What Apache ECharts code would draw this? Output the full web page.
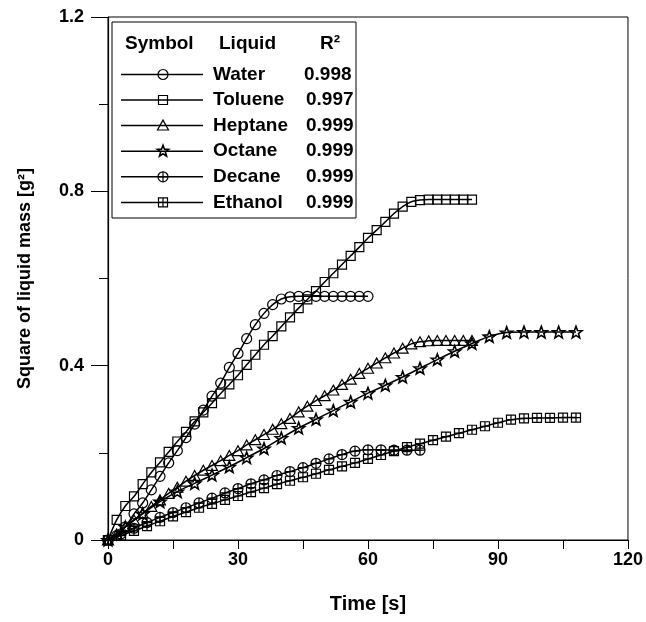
<!DOCTYPE html>
<html>
<head>
<meta charset="utf-8">
<script src="https://cdn.jsdelivr.net/npm/echarts@6/dist/echarts.min.js"></script>
<style>
  html, body { margin: 0; padding: 0; background: #fff; }
  #chart { width: 646px; height: 622px; }
</style>
</head>
<body>
<div id="chart"></div>
<script>
// sample times (s)
const time2 = [0, 2, 4, 6, 8, 10, 12, 14, 16, 18, 20, 22, 24, 26, 28, 30, 32, 34, 36, 38, 40, 42,
  44, 46, 48, 50, 52, 54, 56, 58, 60, 62, 64, 66, 68, 70, 72, 74, 76, 78, 80, 82, 84];
const time3 = [0, 3, 6, 9, 12, 15, 18, 21, 24, 27, 30, 33, 36, 39, 42, 45, 48, 51, 54, 57, 60, 63,
  66, 69, 72, 75, 78, 81, 84, 87, 90, 93, 96, 99, 102, 105, 108];
const time4 = [0, 4, 8, 12, 16, 20, 24, 28, 32, 36, 40, 44, 48, 52, 56, 60, 64, 68, 72, 76, 80, 84,
  88, 92, 96, 100, 104, 108];

// square of liquid mass (g^2)
const water = [0, 0.01, 0.03, 0.06, 0.085, 0.115, 0.146, 0.177, 0.205, 0.235, 0.266, 0.298, 0.33,
  0.36, 0.396, 0.428, 0.462, 0.494, 0.52, 0.54, 0.553, 0.558, 0.559, 0.559, 0.559, 0.559, 0.559,
  0.559, 0.559, 0.559, 0.559];
const toluene = [0, 0.046, 0.078, 0.1, 0.128, 0.155, 0.178, 0.202, 0.226, 0.248, 0.272, 0.293,
  0.314, 0.336, 0.357, 0.378, 0.402, 0.425, 0.448, 0.468, 0.49, 0.511, 0.532, 0.552, 0.571, 0.592,
  0.612, 0.632, 0.652, 0.672, 0.693, 0.711, 0.73, 0.749, 0.765, 0.776, 0.78, 0.781, 0.781, 0.781,
  0.781, 0.781, 0.781];
const heptane = [0, 0.014, 0.03, 0.046, 0.062, 0.077, 0.092, 0.107, 0.121, 0.135, 0.148, 0.16,
  0.171, 0.182, 0.194, 0.205, 0.218, 0.23, 0.242, 0.254, 0.267, 0.279, 0.294, 0.307, 0.32, 0.331,
  0.344, 0.357, 0.369, 0.382, 0.394, 0.406, 0.418, 0.429, 0.44, 0.45, 0.455, 0.457, 0.458, 0.458,
  0.458, 0.458, 0.458];
const octane = [0, 0.03, 0.06, 0.088, 0.111, 0.13, 0.149, 0.168, 0.189, 0.21, 0.234, 0.257, 0.277,
  0.297, 0.317, 0.337, 0.355, 0.374, 0.394, 0.414, 0.433, 0.451, 0.467, 0.476, 0.477, 0.477, 0.477,
  0.477];
const decane = [0, 0.014, 0.027, 0.04, 0.052, 0.063, 0.074, 0.085, 0.096, 0.108, 0.118, 0.129,
  0.138, 0.148, 0.157, 0.166, 0.176, 0.186, 0.196, 0.204, 0.207, 0.207, 0.206, 0.206, 0.206];
const ethanol = [0, 0.01, 0.021, 0.032, 0.043, 0.054, 0.064, 0.074, 0.083, 0.092, 0.101, 0.11,
  0.119, 0.128, 0.136, 0.144, 0.152, 0.161, 0.169, 0.177, 0.186, 0.195, 0.204, 0.213, 0.221, 0.229,
  0.237, 0.245, 0.253, 0.261, 0.269, 0.276, 0.279, 0.28, 0.28, 0.281, 0.281];

const liquids = ['Water', 'Toluene', 'Heptane', 'Octane', 'Decane', 'Ethanol'];
const r2Values = ['0.998', '0.997', '0.999', '0.999', '0.999', '0.999'];
const yTicks = ['0', '0.4', '0.8', '1.2'];

const FONT = '"Liberation Sans", Arial, Helvetica, sans-serif';

// marker outlines (unit size 20)
const circlePath = 'M0,-10A10,10,0,1,1,0,10A10,10,0,1,1,0,-10Z';
const squarePath = 'M-10,-10L10,-10L10,10L-10,10Z';
const trianglePath = 'M0,-10L10,8L-10,8Z';
const starPts = [];
for (let i = 0; i < 10; i++) {
  const r = i % 2 === 0 ? 10 : 4.2;
  const a = -Math.PI / 2 + i * Math.PI / 5;
  starPts.push([r * Math.cos(a), r * Math.sin(a)]);
}
const starPath = starPts.map((p, i) => (i ? 'L' : 'M') + p[0].toFixed(2) + ',' + p[1].toFixed(2)).join('') + 'Z';
const circlePlusPath = circlePath + 'M-10,0L10,0M0,-10L0,10';
const squarePlusPath = squarePath + 'M-10,0L10,0M0,-10L0,10';

const symbols = [
  { kind: 'circle', path: circlePath, size: 10, lw: 1.2 },
  { kind: 'square', path: squarePath, size: 9, lw: 1.2 },
  { kind: 'triangle', path: trianglePath, size: 11, lw: 1.2 },
  { kind: 'star', path: starPath, size: 12, lw: 1.6 },
  { kind: 'circlePlus', path: circlePlusPath, size: 10, lw: 1.2 },
  { kind: 'squarePlus', path: squarePlusPath, size: 9, lw: 1.2 }
];

function makeSeries(name, times, values, sym) {
  return {
    name: name,
    type: 'line',
    data: values.map((v, i) => [times[i], v]),
    symbol: 'path://' + sym.path,
    symbolSize: sym.size,
    symbolKeepAspect: true,
    showAllSymbol: true,
    smooth: 0.3,
    lineStyle: { color: '#000', width: 1.5 },
    itemStyle: { color: 'rgba(0,0,0,0)', borderColor: '#000', borderWidth: sym.lw },
    emphasis: { disabled: true },
    animation: false
  };
}

// legend icon built from plain graphic shapes
function legendIcon(sym, cx, cy) {
  const h = sym.size / 2;
  const st = { fill: 'rgba(0,0,0,0)', stroke: '#000', lineWidth: sym.lw };
  const cross = [
    { type: 'line', shape: { x1: cx - h, y1: cy, x2: cx + h, y2: cy }, style: { stroke: '#000', lineWidth: 1.2 } },
    { type: 'line', shape: { x1: cx, y1: cy - h, x2: cx, y2: cy + h }, style: { stroke: '#000', lineWidth: 1.2 } }
  ];
  switch (sym.kind) {
    case 'circle': return [{ type: 'circle', shape: { cx: cx, cy: cy, r: h }, style: st }];
    case 'square': return [{ type: 'rect', shape: { x: cx - h, y: cy - h, width: 2 * h, height: 2 * h }, style: st }];
    case 'triangle': return [{ type: 'polygon', shape: { points: [[cx, cy - h], [cx + h, cy + 0.8 * h], [cx - h, cy + 0.8 * h]] }, style: st }];
    case 'star': return [{ type: 'polygon', shape: { points: starPts.map(p => [cx + p[0] * h / 10, cy + p[1] * h / 10]) }, style: st }];
    case 'circlePlus': return [{ type: 'circle', shape: { cx: cx, cy: cy, r: h }, style: st }].concat(cross);
    default: return [{ type: 'rect', shape: { x: cx - h, y: cy - h, width: 2 * h, height: 2 * h }, style: st }].concat(cross);
  }
}

const LFONT = 'bold 19px ' + FONT;
const rowY = [74.5, 100, 125.6, 151.2, 176.8, 202.4];
const legendEls = [
  { type: 'rect', shape: { x: 112, y: 22, width: 244, height: 196 },
    style: { fill: '#fff', stroke: '#000', lineWidth: 1 } },
  { type: 'text', style: { text: 'Symbol', x: 125, y: 44, font: LFONT, fill: '#000', textVerticalAlign: 'middle' } },
  { type: 'text', style: { text: 'Liquid', x: 219, y: 44, font: LFONT, fill: '#000', textVerticalAlign: 'middle' } },
  { type: 'text', style: { text: 'R²', x: 320, y: 44, font: LFONT, fill: '#000', textVerticalAlign: 'middle' } }
];
liquids.forEach((name, i) => {
  const y = rowY[i];
  legendEls.push({ type: 'line', shape: { x1: 121, y1: y, x2: 203, y2: y }, style: { stroke: '#000', lineWidth: 1.5 } });
  legendEls.push(...legendIcon(symbols[i], 163, y));
  legendEls.push(
    { type: 'text', style: { text: name, x: 213, y: y, font: LFONT, fill: '#000', textVerticalAlign: 'middle' } },
    { type: 'text', style: { text: r2Values[i], x: i === 0 ? 304 : 306, y: y, font: LFONT, fill: '#000', textVerticalAlign: 'middle' } }
  );
});

const chart = echarts.init(document.getElementById('chart'));
chart.setOption({
  animation: false,
  backgroundColor: '#fff',
  grid: { left: 108, top: 17, right: 18, bottom: 82, show: true, borderColor: '#000', borderWidth: 1 },
  xAxis: {
    type: 'value', min: 0, max: 120, interval: 30,
    name: 'Time [s]', nameLocation: 'middle', nameGap: 54,
    nameTextStyle: { fontFamily: FONT, fontWeight: 'bold', fontSize: 20, color: '#000' },
    axisLine: { show: true, lineStyle: { color: '#000', width: 1.2 } },
    axisTick: { show: true, length: 9, lineStyle: { color: '#000' } },
    minorTick: { show: true, splitNumber: 2, length: 9, lineStyle: { color: '#000' } },
    splitLine: { show: false },
    axisLabel: { fontFamily: FONT, fontWeight: 'bold', fontSize: 18, color: '#000', margin: 11 }
  },
  yAxis: {
    type: 'value', min: 0, max: 1.2, interval: 0.4,
    name: 'Square of liquid mass [g²]', nameLocation: 'middle', nameGap: 74, nameRotate: 90,
    nameTextStyle: { fontFamily: FONT, fontWeight: 'bold', fontSize: 18, color: '#000' },
    axisLine: { show: true, lineStyle: { color: '#000', width: 1.2 } },
    axisTick: { show: true, length: 17, lineStyle: { color: '#000' } },
    minorTick: { show: true, splitNumber: 2, length: 9, lineStyle: { color: '#000' } },
    splitLine: { show: false },
    axisLabel: {
      fontFamily: FONT, fontWeight: 'bold', fontSize: 18, color: '#000', margin: 24,
      formatter: (v) => yTicks[Math.round(v / 0.4)]
    }
  },
  series: [
    makeSeries('Water', time2, water, symbols[0]),
    makeSeries('Toluene', time2, toluene, symbols[1]),
    makeSeries('Heptane', time2, heptane, symbols[2]),
    makeSeries('Octane', time4, octane, symbols[3]),
    makeSeries('Decane', time3, decane, symbols[4]),
    makeSeries('Ethanol', time3, ethanol, symbols[5])
  ],
  graphic: { elements: legendEls }
});
</script>
</body>
</html>
